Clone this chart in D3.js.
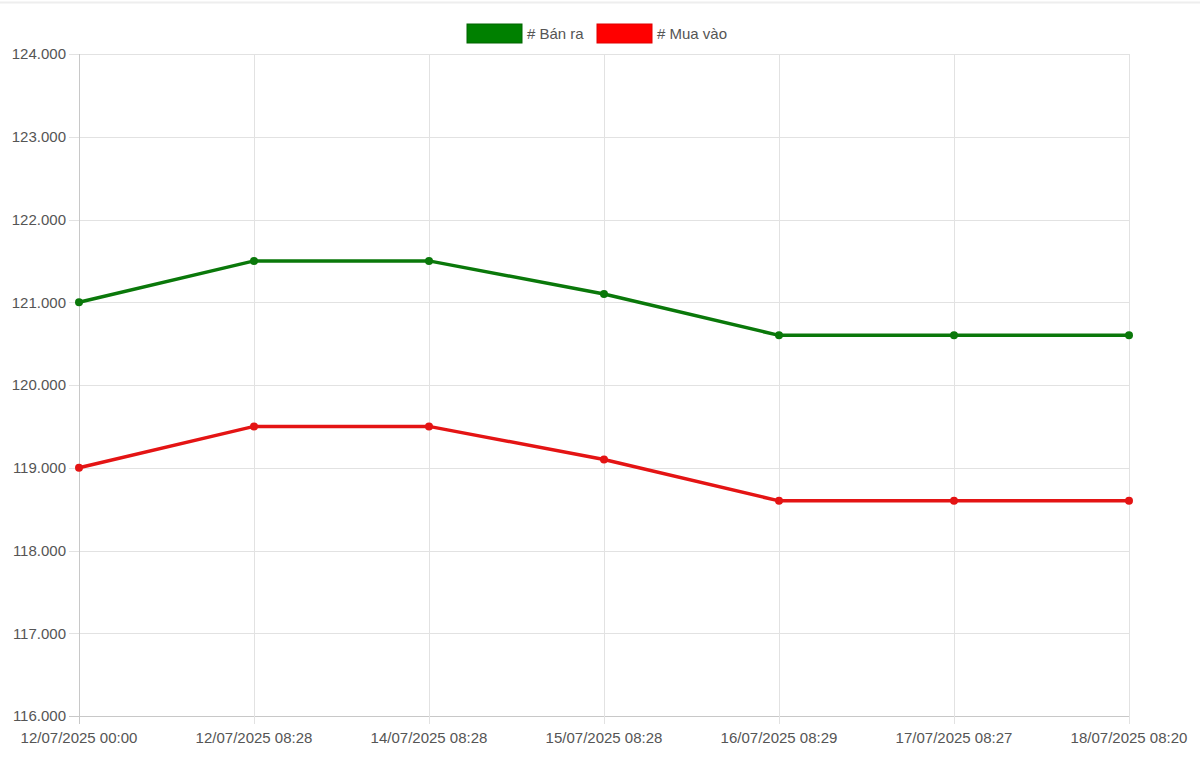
<!DOCTYPE html>
<html><head><meta charset="utf-8">
<script src="https://cdn.jsdelivr.net/npm/d3@7"></script>
<style>html,body{margin:0;padding:0;background:#fff;}svg{display:block;}</style>
</head><body>
<script>
const labels = ["12/07/2025 00:00","12/07/2025 08:28","14/07/2025 08:28","15/07/2025 08:28","16/07/2025 08:29","17/07/2025 08:27","18/07/2025 08:20"];
const banRa = [121000,121500,121500,121100,120600,120600,120600];
const muaVao = [119000,119500,119500,119100,118600,118600,118600];
const yTicks = [116000,117000,118000,119000,120000,121000,122000,123000,124000];
const seriesNames = ["# Bán ra","# Mua vào"];
const seriesColors = ["#008000","#ff0000"];
const lineColors = ["#0a780a","#e41414"];

const W=1200,H=758;
const svg=d3.select("body").append("svg").attr("width",W).attr("height",H);
const font="Liberation Sans, Arial, sans-serif";
svg.append("line").attr("x1",0).attr("x2",W).attr("y1",2.5).attr("y2",2.5).attr("stroke","#eeeeee").attr("stroke-width",2);

const L=79,R=1129,T=54,B=716;
const x=d3.scalePoint().domain(labels).range([L,R]);
const y=d3.scaleLinear().domain([116000,124000]).range([B,T]);
const yfmt=d=>{const s=String(d);return s.slice(0,3)+"."+s.slice(3);};

const g=svg.append("g");
g.selectAll(".hg").data(yTicks).join("line").attr("x1",L-10).attr("x2",R).attr("y1",d=>Math.round(y(d))+0.5).attr("y2",d=>Math.round(y(d))+0.5).attr("stroke",d=>d===116000?"#c8c8c8":"#e2e2e2");
g.selectAll(".vg").data(labels).join("line").attr("x1",d=>Math.round(x(d))+0.5).attr("x2",d=>Math.round(x(d))+0.5).attr("y1",T).attr("y2",B+8).attr("stroke",(d,i)=>i===0?"#c8c8c8":"#e2e2e2");

g.selectAll(".yl").data(yTicks).join("text").attr("x",L-13).attr("y",d=>y(d)).attr("dy","0.35em").attr("text-anchor","end")
 .attr("font-family",font).attr("font-size",15).attr("fill","#555").text(yfmt);
g.selectAll(".xl").data(labels).join("text").attr("x",d=>x(d)).attr("y",B+27).attr("text-anchor","middle")
 .attr("font-family",font).attr("font-size",15).attr("fill","#555").text(d=>d);

const series=[banRa,muaVao];
const line=d3.line().x((d,i)=>x(labels[i])).y(d=>y(d));
series.forEach((s,k)=>{
  svg.append("path").datum(s).attr("d",line).attr("fill","none").attr("stroke",lineColors[k]).attr("stroke-width",3.5);
  svg.selectAll(".p"+k).data(s).join("circle").attr("cx",(d,i)=>x(labels[i])).attr("cy",d=>y(d)).attr("r",4).attr("fill",lineColors[k]);
});

const lx=[467,597];
seriesNames.forEach((n,k)=>{
  svg.append("rect").attr("x",lx[k]).attr("y",24).attr("width",55).attr("height",19).attr("fill",seriesColors[k]).attr("stroke",k===0?"#006400":"#e00000").attr("stroke-width",1);
  svg.append("text").attr("x",lx[k]+60).attr("y",33.5).attr("dy","0.35em").attr("font-family",font).attr("font-size",15).attr("fill","#555").text(n);
});
</script>
</body></html>
